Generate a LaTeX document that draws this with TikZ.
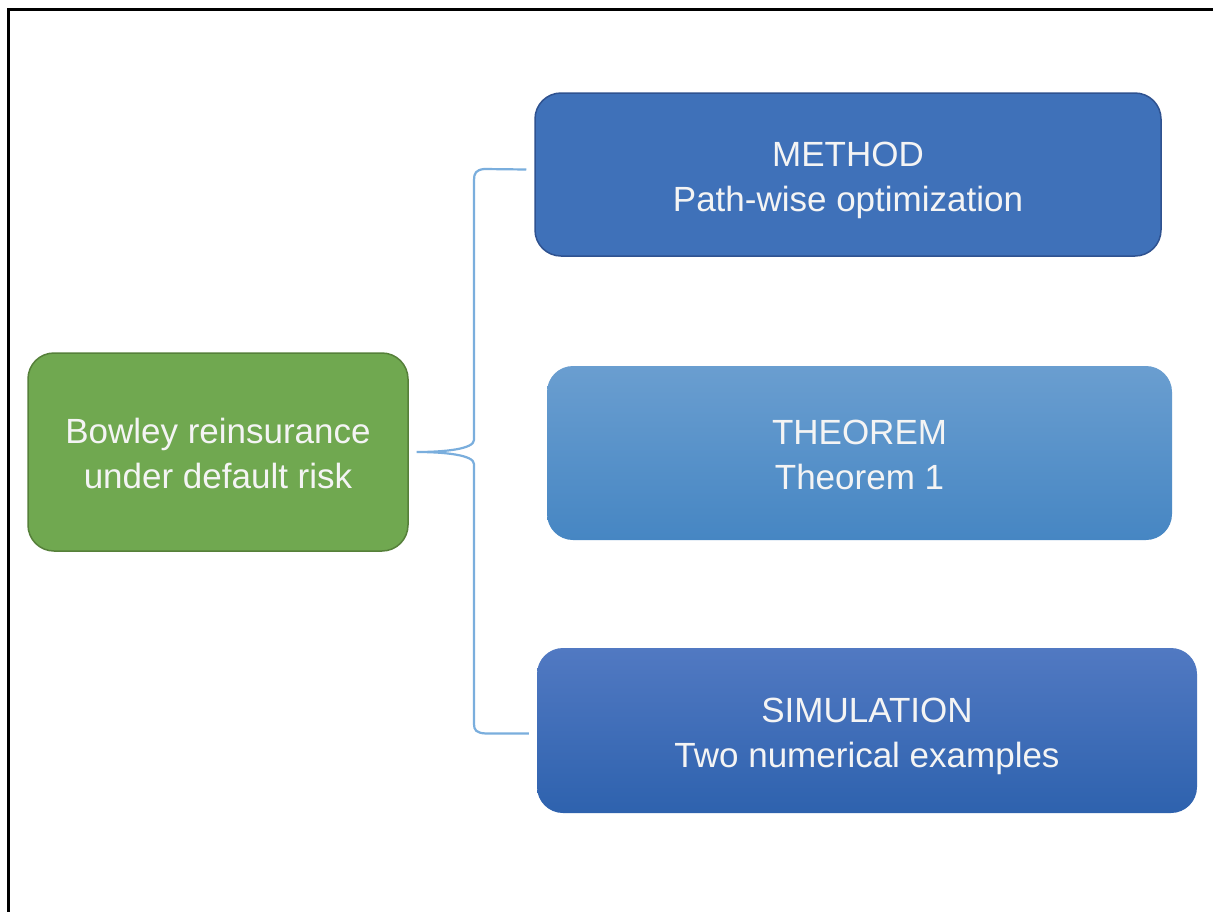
\documentclass[tikz,border=0pt]{standalone}
\usepackage{fontspec}
\setmainfont{Liberation Sans}
\usetikzlibrary{calc}
\definecolor{grfill}{HTML}{70A850}
\definecolor{grline}{HTML}{56803A}
\definecolor{mfill}{HTML}{3F71B9}
\definecolor{mline}{HTML}{2F5290}
\definecolor{ttop}{HTML}{6A9ED0}
\definecolor{tbot}{HTML}{4686C3}
\definecolor{stop}{HTML}{5179C2}
\definecolor{sbot}{HTML}{2E62AE}
\definecolor{bracec}{HTML}{7AAEDD}
\definecolor{txt}{HTML}{F4F4F4}
\tikzset{
  box/.style={rounded corners=26pt, inner sep=0pt, align=center, text=txt,
    font=\fontsize{35}{45}\selectfont, text height=81pt, text depth=8pt},
  bracepath/.style={draw=bracec, line width=2.2pt},
}
\begin{document}
\begin{tikzpicture}[x=1pt,y=-1pt]
\useasboundingbox (0,0) rectangle (1213,911);
\fill[white] (0,0) rectangle (1213,911);
\draw[line width=3pt, line cap=rect] (8,911) -- (8,9) -- (1213,9);

\node[box, fill=grfill, draw=grline, line width=1.5pt,
  minimum width=380pt, minimum height=198pt] (g) at (218,452)
  {Bowley reinsurance\\under default risk};
\node[box, fill=mfill, draw=mline, line width=1.5pt,
  minimum width=626pt, minimum height=163pt] (m) at (848,174.5)
  {METHOD\\Path-wise optimization};
\node[box, top color=ttop, bottom color=tbot,
  minimum width=625pt, minimum height=174pt] (t) at (859.5,453)
  {THEOREM\\Theorem 1};
\node[box, top color=stop, bottom color=sbot,
  minimum width=660pt, minimum height=165pt] (s) at (867,730.5)
  {SIMULATION\\Two numerical examples};

\coordinate (tip) at ($(g.east)+(8,0)$);
\coordinate (a) at ($(m.west)+(-8,-5)$);
\coordinate (b) at ($(s.west)+(-8,3)$);
\draw[bracepath] (a) -- (484,169) .. controls (476,170) and (474,173) .. (474,180)
  -- (474,440) .. controls (474,449) and (445,452) .. (tip)
  .. controls (445,452) and (474,455) .. (474,464)
  -- (474,724) .. controls (474,730) and (476,733) .. (486,733.5) -- (b);
\end{tikzpicture}
\end{document}
